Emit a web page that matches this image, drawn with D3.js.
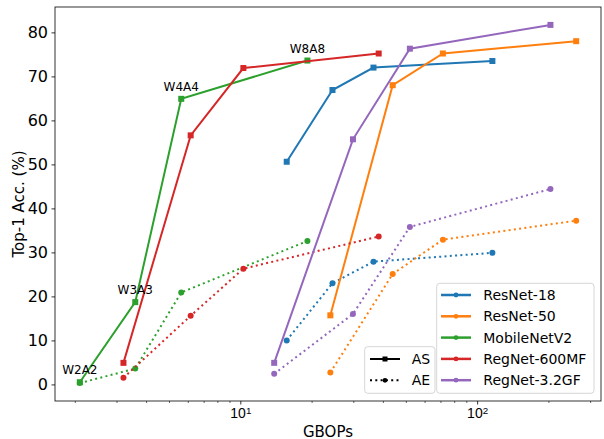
<!DOCTYPE html>
<meta charset="utf-8">
<style>
body { margin: 0; background: #fff; }
svg { font-family: "DejaVu Sans", sans-serif; }
</style>
<svg width="604" height="439"></svg>
<script src="https://d3js.org/d3.v7.min.js"></script>
<script>
// models (one colour each) and the bit settings along every line
var models = ["ResNet-18", "ResNet-50", "MobileNetV2", "RegNet-600MF", "RegNet-3.2GF"];
var bits = ["W2A2", "W3A3", "W4A4", "W8A8"];
var colors = ["#1f77b4", "#ff7f0e", "#2ca02c", "#d62728", "#9467bd"];

// GBOPs for W2A2, W3A3, W4A4, W8A8
var gbops = [
  [15.7, 24.5, 36.5, 116],
  [24.0, 44.0, 71.7, 262],
  [2.1, 3.6, 5.63, 19.2],
  [3.21, 6.17, 10.3, 38.4],
  [13.9, 29.9, 52.0, 204]
];
// top-1 accuracy, AS (solid) and AE (dotted)
var accAS = [
  [50.6, 66.9, 72.0, 73.5],
  [15.7, 68.0, 75.2, 78.0],
  [0.5, 18.7, 64.9, 73.6],
  [4.9, 56.6, 71.9, 75.2],
  [4.9, 55.7, 76.3, 81.7]
];
var accAE = [
  [10.0, 23.0, 27.9, 29.9],
  [2.7, 25.1, 32.9, 37.2],
  [0.3, 3.6, 20.9, 32.6],
  [1.5, 15.6, 26.3, 33.6],
  [2.4, 16.0, 35.8, 44.4]
];
var yTicks = [0, 10, 20, 30, 40, 50, 60, 70, 80];
var xMajor = [10, 100];
var xMinor = [2, 3, 4, 5, 6, 7, 8, 9, 20, 30, 40, 50, 60, 70, 80, 90, 200, 300];

var svg = d3.select("svg"),
    margin = {top: 7, right: 3, bottom: 38, left: 55},
    width = +svg.attr("width") - margin.left - margin.right,
    height = +svg.attr("height") - margin.top - margin.bottom;

var g = svg.append("g").attr("transform", "translate(" + margin.left + "," + margin.top + ")");

//domains with matplotlib-like 5% margins
var allX = d3.merge(gbops),
    allY = d3.merge(accAS.concat(accAE));
var lx0 = Math.log10(d3.min(allX)), lx1 = Math.log10(d3.max(allX)),
    ly0 = d3.min(allY), ly1 = d3.max(allY);
var x = d3.scaleLog()
    .domain([Math.pow(10, lx0 - 0.05 * (lx1 - lx0)), Math.pow(10, lx1 + 0.05 * (lx1 - lx0))])
    .range([0, width]);
var y = d3.scaleLinear()
    .domain([ly0 - 0.05 * (ly1 - ly0), ly1 + 0.05 * (ly1 - ly0)])
    .range([height, 0]);

//y axis
var yAxis = g.append("g")
    .call(d3.axisLeft(y).tickValues(yTicks).tickSize(3.5).tickPadding(3.5));
yAxis.select(".domain").remove();
yAxis.selectAll("line").attr("stroke", "#000").attr("stroke-width", 0.8);
yAxis.selectAll("text").attr("font-size", 16).attr("font-family", "DejaVu Sans").attr("fill", "#000");

//x axis: minor then major ticks
var xMin = g.append("g").attr("transform", "translate(0," + height + ")")
    .call(d3.axisBottom(x).tickValues(xMinor).tickSize(2).tickFormat(""));
xMin.select(".domain").remove();
xMin.selectAll("line").attr("stroke", "#000").attr("stroke-width", 0.6);

var xMaj = g.append("g").attr("transform", "translate(0," + height + ")")
    .call(d3.axisBottom(x).tickValues(xMajor).tickSize(3.5).tickFormat(""));
xMaj.select(".domain").remove();
xMaj.selectAll("line").attr("stroke", "#000").attr("stroke-width", 0.8);
xMaj.selectAll(".tick").append("text")
    .attr("y", 17)
    .attr("fill", "#000")
    .attr("font-size", 14)
    .attr("text-anchor", "middle")
    .each(function(d) {
      var t = d3.select(this);
      t.append("tspan").text("10");
      t.append("tspan").attr("dy", "-0.42em").attr("font-size", "70%").text(Math.round(Math.log10(d)));
    });

//frame
g.append("rect")
    .attr("width", width).attr("height", height)
    .attr("fill", "none").attr("stroke", "#000").attr("stroke-width", 0.8);

//axis labels
svg.append("text")
    .attr("x", margin.left + width / 2).attr("y", 436.5)
    .attr("text-anchor", "middle").attr("font-size", 15)
    .text("GBOPs");
svg.append("text")
    .attr("transform", "translate(19," + (margin.top + height / 2) + ") rotate(-90)")
    .attr("text-anchor", "middle").attr("dominant-baseline", "central").attr("font-size", 15)
    .text("Top-1 Acc. (%)");

var line = d3.line()
    .x(function(d) { return x(d[0]); })
    .y(function(d) { return y(d[1]); });

//lines and markers per model
models.forEach(function(m, i) {
  var ptsAS = gbops[i].map(function(v, j) { return [v, accAS[i][j]]; }),
      ptsAE = gbops[i].map(function(v, j) { return [v, accAE[i][j]]; });

  g.append("path").datum(ptsAS)
      .attr("d", line).attr("fill", "none")
      .attr("stroke", colors[i]).attr("stroke-width", 2);
  g.selectAll(null).data(ptsAS).enter().append("rect")
      .attr("x", function(d) { return x(d[0]) - 3; })
      .attr("y", function(d) { return y(d[1]) - 3; })
      .attr("width", 6).attr("height", 6)
      .attr("fill", colors[i]);

  g.append("path").datum(ptsAE)
      .attr("d", line).attr("fill", "none")
      .attr("stroke", colors[i]).attr("stroke-width", 2)
      .attr("stroke-dasharray", "2,3.3");
  g.selectAll(null).data(ptsAE).enter().append("circle")
      .attr("cx", function(d) { return x(d[0]); })
      .attr("cy", function(d) { return y(d[1]); })
      .attr("r", 3)
      .attr("fill", colors[i]);
});

//bit-width annotations on MobileNetV2 AS points
var mb = models.indexOf("MobileNetV2");
g.selectAll(".bitlabel").data(bits).enter().append("text")
    .attr("class", "bitlabel")
    .attr("x", function(d, j) { return x(gbops[mb][j]); })
    .attr("y", function(d, j) { return y(accAS[mb][j]) - 8; })
    .attr("text-anchor", "middle").attr("font-size", 12)
    .text(function(d) { return d; });

//model legend
var leg = svg.append("g").attr("transform", "translate(436.7,283.3)");
leg.append("rect")
    .attr("width", 157.3).attr("height", 110).attr("rx", 3)
    .attr("fill", "#fff").attr("fill-opacity", 0.8)
    .attr("stroke", "#ccc").attr("stroke-width", 0.8);
var item = leg.selectAll(".item").data(models).enter().append("g")
    .attr("transform", function(d, i) { return "translate(0," + (11.7 + i * 21.3) + ")"; });
item.append("line")
    .attr("x1", 4.3).attr("x2", 34.3)
    .attr("stroke", function(d, i) { return colors[i]; }).attr("stroke-width", 2.5);
item.append("circle")
    .attr("cx", 19.3).attr("r", 2.4)
    .attr("fill", function(d, i) { return colors[i]; });
item.append("text")
    .attr("x", 46.6).attr("dominant-baseline", "central").attr("font-size", 14)
    .text(function(d) { return d; });

//line-style legend
var leg2 = svg.append("g").attr("transform", "translate(364.7,346.7)");
leg2.append("rect")
    .attr("width", 70.3).attr("height", 46.6).attr("rx", 3)
    .attr("fill", "#fff").attr("fill-opacity", 0.8)
    .attr("stroke", "#ccc").attr("stroke-width", 0.8);
var st = leg2.selectAll(".st").data(["AS", "AE"]).enter().append("g")
    .attr("transform", function(d, i) { return "translate(0," + (12.3 + i * 21.3) + ")"; });
st.append("line")
    .attr("x1", 5.3).attr("x2", 35.3)
    .attr("stroke", "#000").attr("stroke-width", 2)
    .attr("stroke-dasharray", function(d) { return d == "AE" ? "2,3.3" : null; });
st.append(function(d) {
      return document.createElementNS("http://www.w3.org/2000/svg", d == "AS" ? "rect" : "circle");
    })
    .attr("x", 17.8).attr("y", -2.5).attr("width", 5).attr("height", 5)
    .attr("cx", 20.3).attr("r", 2.4)
    .attr("fill", "#000");
st.append("text")
    .attr("x", 47).attr("dominant-baseline", "central").attr("font-size", 14)
    .text(function(d) { return d; });
</script>
